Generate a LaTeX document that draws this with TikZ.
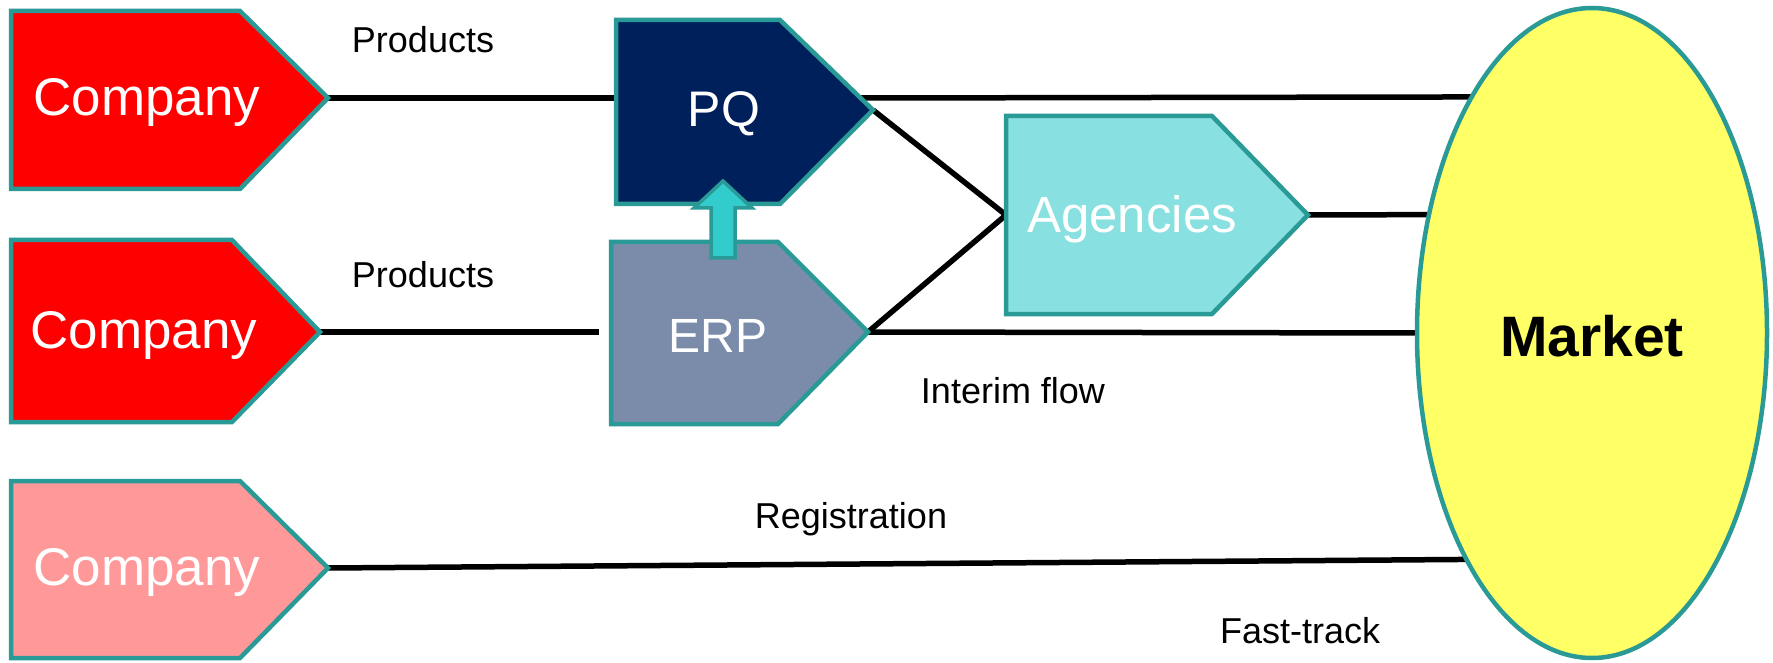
\documentclass[tikz,border=0pt]{standalone}
\usepackage{fontspec}
\setmainfont{Liberation Sans}
\usetikzlibrary{shapes.geometric,backgrounds}
\definecolor{tealb}{HTML}{2A9A96}
\definecolor{compred}{HTML}{FF0000}
\definecolor{comppink}{HTML}{FF9999}
\definecolor{pqnavy}{HTML}{00205B}
\definecolor{erpgray}{HTML}{7B8CAB}
\definecolor{agcyan}{HTML}{88E0E0}
\definecolor{mktyellow}{HTML}{FFFF66}
\definecolor{arrcyan}{HTML}{33CCCC}
\begin{document}
\begin{tikzpicture}[x=1pt,y=-1pt,
  shapebox/.style={draw=tealb, line width=4.5pt, line join=miter},
  boxtext/.style={text=white, font=\fontsize{50}{60}\selectfont, inner sep=0},
  comptext/.style={text=white, font=\fontsize{53}{63}\selectfont, inner sep=0},
  lbl/.style={text=black, font=\fontsize{36}{43}\selectfont, inner sep=0},
  conn/.style={line width=5.5pt, black}]
\useasboundingbox (0,0) rectangle (1773,663);

% Companies
\draw[shapebox, fill=compred] (11,11) -- (240,11) -- (328,98) -- (240,189) -- (11,189) -- cycle;
\coordinate (c1tip) at (328,98);
\node[comptext] (c1) at (147,102) {Company};
\draw[shapebox, fill=compred] (11,240) -- (232,240) -- (320,332) -- (232,422) -- (11,422) -- cycle;
\coordinate (c2tip) at (316,332);
\node[comptext] (c2) at (144,335) {Company};
\draw[shapebox, fill=comppink] (11,481) -- (240,481) -- (328,568) -- (240,658) -- (11,658) -- cycle;
\coordinate (c3tip) at (328,568);
\node[comptext] (c3) at (147,572) {Company};

% PQ
\draw[shapebox, fill=pqnavy] (616,20) -- (780,20) -- (873,110) -- (780,204) -- (616,204) -- cycle;
\coordinate (pqw) at (616,98);
\coordinate (pqe) at (861,98);
\coordinate (pqtip) at (873,110);
\node[boxtext] (pq) at (724,114) {PQ};

% ERP
\draw[shapebox, fill=erpgray] (611,242) -- (778,242) -- (868,332) -- (778,424) -- (611,424) -- cycle;
\coordinate (erpw) at (599,332);
\coordinate (erptip) at (868,332);
\node[boxtext, font=\fontsize{48}{58}\selectfont] (erp) at (718,336) {ERP};

% ERP -> PQ arrow
\draw[draw=tealb, line width=3.5pt, fill=arrcyan, line join=miter]
  (711,258) -- (711,208) -- (694,208) -- (723,181) -- (752,208) -- (735,208) -- (735,258) -- cycle;

% Agencies
\draw[shapebox, fill=agcyan] (1006,116) -- (1212,116) -- (1308,215) -- (1212,314) -- (1006,314) -- cycle;
\coordinate (agw) at (1006,215);
\coordinate (agtip) at (1308,215);
\node[boxtext, font=\fontsize{51}{61}\selectfont] (ag) at (1132,219) {Agencies};

% Market
\node[ellipse, draw=tealb, line width=4.5pt, fill=mktyellow, minimum width=350, minimum height=650, inner sep=0, outer sep=0] (mkt) at (1592,333) {};
\node[font=\fontsize{57}{68}\selectfont\bfseries, inner sep=0] (mktlbl) at (1592,336) {Market};

% connectors
\begin{scope}[on background layer]
\draw[conn] (c1tip) -- (pqw);
\draw[conn] (c2tip) -- (erpw);
\draw[conn] (pqe) -- (mkt.117.2);
\draw[conn] (pqtip) -- (agw);
\draw[conn] (erptip) -- (agw);
\draw[conn] (agtip) -- (mkt.144.1);
\draw[conn] (erptip) -- (mkt.180);
\draw[conn] (c3tip) -- (mkt.241.6);
\end{scope}

% labels
\node[lbl] (p1) at (423,40) {Products};
\node[lbl] (p2) at (423,275) {Products};
\node[lbl] (interim) at (1013,391) {Interim flow};
\node[lbl] (reg) at (851,519) {Registration};
\node[lbl] (fast) at (1300,631) {Fast-track};
\end{tikzpicture}
\end{document}
